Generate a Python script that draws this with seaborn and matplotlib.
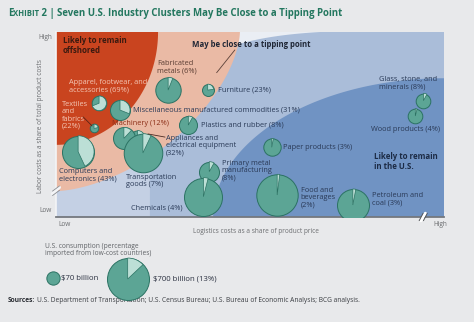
import numpy as np
import pandas as pd
import matplotlib
matplotlib.use("Agg")
import matplotlib.pyplot as plt
import matplotlib.transforms as mtransforms
from matplotlib.patches import Wedge, Polygon
import seaborn as sns

# ---------------- data ----------------
industries = ["Apparel, footwear, and accessories", "Textiles and fabrics", "Computers and electronics",
              "Miscellaneous manufactured commodities", "Appliances and electrical equipment", "Machinery",
              "Transportation goods", "Fabricated metals", "Furniture", "Plastics and rubber",
              "Paper products", "Primary metal manufacturing", "Chemicals", "Food and beverages",
              "Petroleum and coal", "Glass, stone, and minerals", "Wood products"]
logistics_cost = [11.1, 9.8, 5.7, 16.5, 21.0, 17.5, 22.4, 28.9, 39.1, 34.1, 55.6, 39.5, 38.0, 57.0, 76.5, 94.7, 92.6]
labor_cost = [61.5, 47.9, 35.3, 57.8, 42.7, 42.5, 34.6, 68.6, 68.6, 49.7, 37.7, 24.5, 11.0, 11.9, 6.5, 62.9, 54.6]
consumption_bn = [85, 29, 406, 159, 89, 192, 591, 256, 57, 129, 120, 159, 573, 680, 406, 85, 85]
import_share = [69, 22, 43, 31, 32, 12, 7, 6, 23, 8, 3, 8, 4, 2, 3, 8, 4]

label_texts = ["Apparel, footwear, and\naccessories (69%)", "Textiles\nand\nfabrics\n(22%)",
               "Computers and\nelectronics (43%)", "Miscellaneous manufactured commodities (31%)",
               "Appliances and\nelectrical equipment\n(32%)", "Machinery (12%)",
               "Transportation\ngoods (7%)", "Fabricated\nmetals (6%)", "Furniture (23%)",
               "Plastics and rubber (8%)", "Paper products (3%)", "Primary metal\nmanufacturing\n(8%)",
               "Chemicals (4%)", "Food and\nbeverages\n(2%)", "Petroleum and\ncoal (3%)",
               "Glass, stone, and\nminerals (8%)", "Wood products (4%)"]

legend_values = [70, 700]
legend_share = [0, 13]
legend_texts = ["$70 billion", "$700 billion (13%)"]

x_ticklabels = ["Low", "High"]
y_ticklabels = ["Low", "High"]

# ---------------- layout / style ----------------
label_pos = [(3.35, 70.8), (1.55, 54.9), (0.8, 22.7), (19.9, 57.8), (28.4, 38.5), (14.4, 50.3),
             (18.0, 19.5), (26.0, 80.8), (41.7, 68.6), (37.4, 49.7), (58.6, 37.8), (42.7, 25.2),
             (19.3, 4.7), (63.1, 10.3), (81.4, 9.5), (83.3, 72.4), (81.2, 47.4)]
NAVY = "#2a3a57"
label_colors = ["#f4c7b5", "#f4c7b5", NAVY, NAVY, NAVY, "#8c2f18", NAVY, "#5a3d33", NAVY, NAVY,
                NAVY, NAVY, NAVY, NAVY, NAVY, NAVY, NAVY]

BG = "#e8e9eb"
TEAL = "#5ca595"
TEAL_LIGHT = "#bcdfd6"
TEAL_EDGE = "#2b7263"
FS = 5.3
FS_SMALL = 4.7

sns.set_theme(style="white")
plt.rcParams["font.family"] = ["Open Sans", "DejaVu Sans"]

W, H = 474, 322
fig = plt.figure(figsize=(W / 100, H / 100), dpi=100, facecolor=BG)
ax = fig.add_axes([56 / W, (H - 217) / H, 388 / W, 185 / H])
ax.set_xlim(0, 100)
ax.set_ylim(0, 100)
ax.set_facecolor("#eaeef4")


def quarter(cx, cy, a, b, p, sx, sy, n=300):
    t = np.linspace(0, np.pi / 2, n)
    xs = cx + sx * a * np.cos(t) ** (2 / p)
    ys = cy + sy * b * np.sin(t) ** (2 / p)
    return np.column_stack([np.r_[cx, xs], np.r_[cy, ys]])


# zones: (center x, center y, semi-axis x, semi-axis y, exponent, dir x, dir y, colour)
zones = [
    (100, 0, 100.5, 101, 2.5, -1, 1, "#c4d0e4"),
    (100, 0, 75.8, 101, 3.8, -1, 1, "#aabdd9"),
    (100, 0, 59.5, 75, 2.0, -1, 1, "#7093c3"),
    (0, 100, 47.4, 86, 1.65, 1, -1, "#eabaa5"),
    (0, 100, 26.3, 61, 2.0, 1, -1, "#c9441f"),
]
for cx, cy, a, b, p, sx, sy, col in zones:
    ax.add_patch(Polygon(quarter(cx, cy, a, b, p, sx, sy), closed=True, facecolor=col,
                         edgecolor="none", zorder=0.5))

df = pd.DataFrame({"industry": industries, "logistics": logistics_cost, "labor": labor_cost,
                   "consumption": consumption_bn, "share": import_share})


def radius_pt(v):
    return 15.12 * np.sqrt(v / 700.0)


def bubble(axis, x, y, v, share, z):
    r = radius_pt(v)
    sns.scatterplot(x=[x], y=[y], s=(2 * r) ** 2, color=TEAL, edgecolor=TEAL_EDGE, linewidth=0.7,
                    ax=axis, zorder=z, legend=False)
    if share > 0:
        tr = fig.dpi_scale_trans + mtransforms.ScaledTranslation(x, y, axis.transData)
        axis.add_patch(Wedge((0, 0), r / 72, 90 - 3.6 * share, 90, facecolor=TEAL_LIGHT,
                             edgecolor=TEAL_EDGE, linewidth=0.5, transform=tr, zorder=z + 0.5,
                             clip_on=False))


for i, row in df.iterrows():
    bubble(ax, row.logistics, row.labor, row.consumption, row.share, 3 + i)

for txt, (lx, ly), col in zip(label_texts, label_pos, label_colors):
    ax.text(lx, ly, txt, fontsize=FS, color=col, ha="left", va="center", linespacing=1.05, zorder=40)

ax.text(1.8, 92.7, "Likely to remain\noffshored", fontsize=FS + 0.4, weight="bold", color="#3a1a10",
        ha="left", va="center", linespacing=1.05, zorder=40)
ax.text(35.0, 93.5, "May be close to a tipping point", fontsize=FS + 0.3, weight="bold", color="#1f2635",
        ha="left", va="center", zorder=40)
ax.text(82.0, 30.1, "Likely to remain\nin the U.S.", fontsize=FS + 0.4, weight="bold", color="#1c2b45",
        ha="left", va="center", linespacing=1.1, zorder=40)

# leader lines
ax.plot([41.4, 46.1], [78.0, 90.3], color="#5a4038", lw=0.6, zorder=40)
ax.plot([7.0, 9.3], [54.1, 49.2], color="#5a2416", lw=0.6, zorder=40)
ax.plot([23.7, 28.1], [44.9, 43.2], color="#4a2a22", lw=0.6, zorder=40)

# axes
for s in ["top", "right"]:
    ax.spines[s].set_visible(False)
ax.spines["left"].set_color("#f4f5f7")
ax.spines["left"].set_linewidth(1.2)
ax.spines["bottom"].set_color("#74787e")
ax.spines["bottom"].set_linewidth(1.3)
ax.set_xticks([2.3, 99], x_ticklabels)
ax.set_yticks([3.8, 97.3], y_ticklabels)
ax.tick_params(length=0, labelsize=FS_SMALL, labelcolor="#6b6d70", pad=3)
ax.set_xlabel("Logistics costs as a share of product price", fontsize=FS_SMALL, color="#6b6d70")
ax.set_ylabel("Labor costs as a share of total product costs", fontsize=FS_SMALL, color="#6b6d70")
ax.xaxis.set_label_coords(0.515, -0.06)
ax.yaxis.set_label_coords(-0.03, 0.49)

# axis breaks
ax.plot([-0.9, 0.9], [12.6, 16.0], color="#f4f5f7", lw=2.2, clip_on=False, zorder=50)
ax.plot([-0.9, 0.9], [11.6, 14.4], color="#8a8d92", lw=0.6, clip_on=False, zorder=51)
ax.plot([-0.9, 0.9], [14.0, 16.8], color="#8a8d92", lw=0.6, clip_on=False, zorder=51)
ax.plot([94.0, 95.2], [-2.0, 2.0], color="#ffffff", lw=2.2, clip_on=False, zorder=50)
ax.plot([93.6, 94.6], [-2.0, 2.0], color="#55585c", lw=0.7, clip_on=False, zorder=51)
ax.plot([94.7, 95.7], [-2.0, 2.0], color="#55585c", lw=0.7, clip_on=False, zorder=51)

# legend (pixel-coordinate overlay axes)
lax = fig.add_axes([0, 0, 1, 1], facecolor="none")
lax.set_xlim(0, W)
lax.set_ylim(H, 0)
lax.axis("off")
lax.text(45, 250, "U.S. consumption (percentage\nimported from low-cost countries)", fontsize=4.8,
         color="#5f6266", ha="left", va="center", linespacing=1.05)
leg_pos = [(52.7, 278.3), (127.7, 279.0)]
leg_text_x = [61.5, 153.5]
for (px, py), v, sh, t, tx in zip(leg_pos, legend_values, legend_share, legend_texts, leg_text_x):
    bubble(lax, px, py, v, sh, 5)
    lax.text(tx, py, t, fontsize=FS + 0.3, color="#2a3040", ha="left", va="center")

renderer = fig.canvas.get_renderer()
s1 = lax.text(8, 300, "Sources:", fontsize=4.8, weight="bold", color="#2a2d33", ha="left", va="center")
sx = 8 + s1.get_window_extent(renderer=renderer).width + 2
lax.text(sx, 300, "U.S. Department of Transportation; U.S. Census Bureau; U.S. Bureau of Economic "
         "Analysis; BCG analysis.", fontsize=4.8, color="#3a3d42", ha="left", va="center")

# title with small caps "EXHIBIT"
TITLE_C = "#23775f"
xcur = 8
for part, size in [("E", 6.95), ("XHIBIT", 5.6), (" 2", 6.95), (" | ", 6.95),
                   ("Seven U.S. Industry Clusters May Be Close to a Tipping Point", 6.95)]:
    t = lax.text(xcur, 16, part, fontsize=size, weight="bold", color=TITLE_C, ha="left", va="baseline")
    bb = t.get_window_extent(renderer=renderer)
    xcur += bb.width

fig.savefig("out.png", dpi=100, facecolor=BG)
